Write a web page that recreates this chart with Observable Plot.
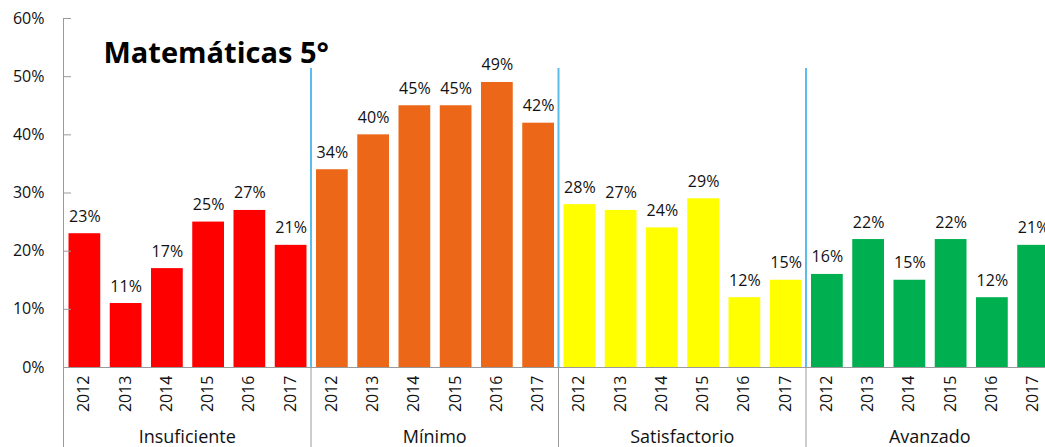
<!DOCTYPE html>
<html>
<head>
<meta charset="utf-8">
<script src="https://cdn.jsdelivr.net/npm/d3@7"></script>
<script src="https://cdn.jsdelivr.net/npm/@observablehq/plot@0.6"></script>
<style>
  html, body { margin: 0; padding: 0; background: #fff; overflow: hidden; width: 1045px; height: 447px; }
</style>
</head>
<body>
<div id="chart"></div>
<script>
const title = "Matemáticas 5°";
const levels = ["Insuficiente", "Mínimo", "Satisfactorio", "Avanzado"];
const years = ["2012", "2013", "2014", "2015", "2016", "2017"];
const insuficiente = [0.23, 0.11, 0.17, 0.25, 0.27, 0.21];
const minimo = [0.34, 0.40, 0.45, 0.45, 0.49, 0.42];
const satisfactorio = [0.28, 0.27, 0.24, 0.29, 0.12, 0.15];
const avanzado = [0.16, 0.22, 0.15, 0.22, 0.12, 0.21];
const levelColors = ["#FF0000", "#EC6818", "#FFFF00", "#00B050"];
const yTicks = [0, 0.1, 0.2, 0.3, 0.4, 0.5, 0.6];

const series = [insuficiente, minimo, satisfactorio, avanzado];
const n = years.length;
const rows = levels.flatMap((level, gi) =>
  years.map((year, yi) => ({level, year, value: series[gi][yi], pos: gi * n + yi}))
);
const yearTicks = rows.map(d => d.pos + 0.5);
const groupCenters = levels.map((_, gi) => gi * n + n / 2);
const groupBounds = d3.range(levels.length + 1).map(gi => gi * n);
const separators = groupBounds.slice(1, -1);

const gray = "#9a9a9a";
const chart = Plot.plot({
  width: 1045,
  height: 447,
  marginTop: 18,
  marginBottom: 80,
  marginLeft: 63,
  marginRight: 0,
  style: {fontFamily: "'Open Sans', sans-serif", color: "#111", background: "#fff", overflow: "hidden"},
  x: {type: "linear", domain: [0, levels.length * n], range: [63, 1053], label: null},
  y: {domain: [0, 0.6], label: null},
  color: {domain: levels, range: levelColors},
  marks: [
    Plot.rectY(rows, {x1: "pos", x2: d => d.pos + 1, y: "value", fill: "level", insetLeft: 5.5, insetRight: 4}),
    Plot.text(rows, {x: d => d.pos + 0.5, y: "value", text: d => Math.round(d.value * 100) + "%", dy: -12, dx: 0.75, lineAnchor: "bottom", fontSize: 16, fill: "#111"}),
    Plot.ruleX(separators, {y1: 0, y2: 0.514, stroke: "#5BBDEB", strokeWidth: 2}),
    Plot.ruleY([0], {stroke: gray}),
    Plot.ruleX([0], {stroke: gray}),
    Plot.axisY({ticks: yTicks, tickFormat: d3.format(".0%"), tickSize: -8, tickPadding: 27, stroke: gray, fontSize: 16, label: null}),
    Plot.axisX(yearTicks, {tickFormat: t => years[Math.floor(t) % n], tickRotate: -90, tickSize: 0, tickPadding: 8, fontSize: 16, label: null}),
    Plot.axisX(groupCenters, {tickFormat: t => levels[Math.floor(t / n)], tickSize: 0, tickPadding: 63, fontSize: 18, label: null}),
    Plot.axisX(groupBounds, {tickFormat: () => "", tickSize: 80, stroke: gray, label: null}),
    Plot.text([title], {frameAnchor: "top-left", dx: 40, dy: 24, lineAnchor: "top", textAnchor: "start", fontSize: 29, fontWeight: "bold", fill: "#000"})
  ]
});
document.getElementById("chart").append(chart);
</script>
</body>
</html>
